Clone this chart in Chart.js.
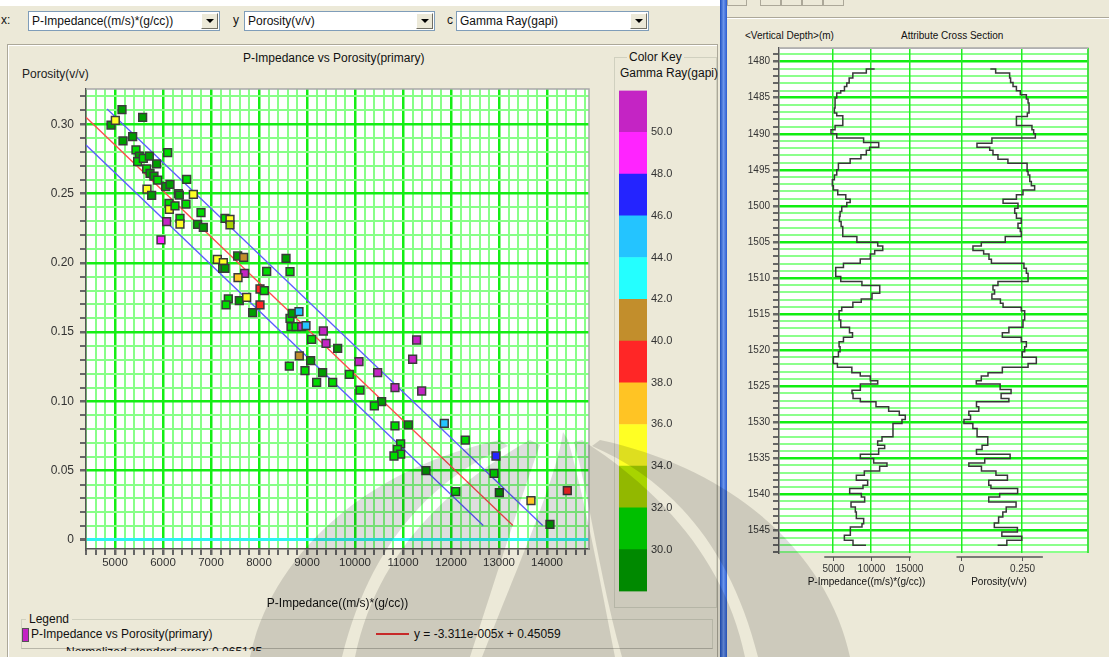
<!DOCTYPE html>
<html>
<head>
<meta charset="utf-8">
<script src="https://cdn.jsdelivr.net/npm/chart.js@4.4.1/dist/chart.umd.min.js"></script>
<style>
html,body{margin:0;padding:0}
body{width:1109px;height:657px;overflow:hidden;position:relative;background:#ece9d8;font-family:'Liberation Sans',Arial,sans-serif;font-size:12px;color:#111}
.a{position:absolute;white-space:nowrap}
.sel{position:absolute;top:11px;height:18px;background:#fff;border:1px solid #7f9db9;line-height:18px;padding-left:3px}
.btn{position:absolute;right:1px;top:1px;width:15px;height:14px;background:#ece9d8;border:1px solid;border-color:#fff #716f64 #716f64 #fff}
.btn:after{content:'';position:absolute;left:4px;top:5px;border-left:4px solid transparent;border-right:4px solid transparent;border-top:4px solid #000}
canvas{position:absolute}
#wm{position:absolute;left:0;top:0;pointer-events:none}
</style>
</head>
<body>
<!-- window chrome -->
<div class="a" style="left:0;top:0;width:720px;height:6px;background:#fff"></div>
<div class="a" style="left:720px;top:0;width:7px;height:657px;background:linear-gradient(to right,#1d4fc0,#6b95ea,#2a5bd0)"></div>
<div class="a" style="left:727px;top:0;width:18px;height:5px;border:1px solid #aca899;border-top:none"></div>
<div class="a" style="left:760px;top:0;width:19px;height:5px;border:1px solid #aca899;border-top:none"></div>
<div class="a" style="left:781px;top:0;width:19px;height:5px;border:1px solid #aca899;border-top:none"></div>
<div class="a" style="left:802px;top:0;width:19px;height:5px;border:1px solid #aca899;border-top:none"></div>
<div class="a" style="left:823px;top:0;width:19px;height:5px;border:1px solid #aca899;border-top:none"></div>
<div class="a" style="left:727px;top:17px;width:382px;height:0;border-top:1px solid #aca899;border-bottom:1px solid #fff"></div>

<!-- top selectors -->
<div class="a" style="left:1px;top:13px">x:</div>
<div class="sel" style="left:28px;width:187px">P-Impedance((m/s)*(g/cc))<div class="btn"></div></div>
<div class="a" style="left:233px;top:13px">y</div>
<div class="sel" style="left:244px;width:186px">Porosity(v/v)<div class="btn"></div></div>
<div class="a" style="left:447px;top:13px">c</div>
<div class="sel" style="left:456px;width:188px">Gamma Ray(gapi)<div class="btn"></div></div>

<!-- left panel frame -->
<div class="a" style="left:7px;top:44px;width:709px;height:620px;border:1px solid #aca899;border-bottom:none;box-shadow:inset 1px 1px 0 #fff"></div>

<!-- main chart texts -->
<div class="a" style="left:243px;top:51px">P-Impedance vs Porosity(primary)</div>
<div class="a" style="left:22px;top:67px;color:#222">Porosity(v/v)</div>

<!-- color key group -->
<div class="a" style="left:614px;top:57px;width:101px;height:549px;border:1px solid #d0d0bf"></div>
<div class="a" style="left:627px;top:50px;background:#ece9d8;padding:0 2px">Color Key</div>
<div class="a" style="left:620px;top:66px">Gamma Ray(gapi)</div>

<!-- legend group -->
<div class="a" style="left:21px;top:619px;width:690px;height:28px;border:1px solid #d0d0bf;border-bottom:1px solid #b8b6a8"></div>
<div class="a" style="left:26px;top:612px;background:#ece9d8;padding:0 3px">Legend</div>
<div class="a" style="left:22px;top:628px;width:5px;height:12px;background:#c422c4;border:1px solid #555"></div>
<div class="a" style="left:31px;top:627px">P-Impedance vs Porosity(primary)</div>
<div class="a" style="left:376px;top:633px;width:33px;height:2px;background:#e53030"></div>
<div class="a" style="left:414px;top:627px">y = -3.311e-005x + 0.45059</div>
<div class="a" style="left:66px;top:645px;height:6px;overflow:hidden"><div style="line-height:14px">Normalized standard error: 0.065125</div></div>

<!-- right panel texts -->
<div class="a" style="left:745px;top:30px;font-size:10px">&lt;Vertical Depth&gt;(m)</div>
<div class="a" style="left:901px;top:30px;font-size:10px">Attribute Cross Section</div>

<canvas id="main" width="600" height="571" style="left:0;top:44px"></canvas>
<canvas id="key" width="118" height="522" style="left:600px;top:80px"></canvas>
<canvas id="log" width="382" height="580" style="left:727px;top:20px"></canvas>

<!-- faint background watermark -->
<svg id="wm" width="1109" height="657" viewBox="0 0 1109 657">
  <g fill="rgba(0,0,0,0.13)">
    <path d="M563,432 C556,480 520,560 482,657 L615,657 C600,580 585,500 568,440 Z"/>
    <path d="M540,445 C520,500 495,580 470,657 L355,657 C375,560 440,490 530,440 Z"/>
    <path d="M508,446 C430,480 370,545 342,657 L250,657 C270,560 360,470 500,440 Z"/>
    <path d="M574,442 C590,500 600,580 622,657 L745,657 C725,560 660,490 582,440 Z"/>
    <path d="M592,446 C670,480 730,545 758,657 L850,657 C830,560 740,470 600,440 Z"/>
  </g>
</svg>

<script>
// ================= DATA =================
// Cross-plot samples
const pImpedance = [4917,5007,5146,5576,5167,5368,5437,5507,5472,5590,
  5715,5660,5730,5812,5868,5889,6097,5667,5764,6056,
  6146,6493,6319,6340,6125,6132,6250,6479,6632,6354,
  6354,6076,6792,6722,6840,5958,7292,7396,7396,7132,
  7257,7243,7292,7556,7681,7701,7563,8160,8563,8646,
  8021,8111,7361,7313,7590,7743,8021,7868,8646,8694,
  8833,8667,8771,8889,8979,9340,9097,9396,9639,11284,
  11201,10083,8840,9076,8958,9326,9882,10472,9201,9535,
  10104,10833,11389,10555,10403,10833,11111,11861,8632,12298,
  10951,10882,10951,10812,12937,11479,12896,12097,13007,13666,
  14423,14062];
const porosity = [0.2994,0.3027,0.3105,0.305,0.2879,0.291,0.2814,0.277,0.273,0.2754,
  0.277,0.2677,0.2645,0.2626,0.2713,0.2597,0.2795,0.2532,0.2487,0.255,
  0.2566,0.2602,0.2499,0.2489,0.2429,0.2386,0.241,0.2424,0.2494,0.2321,
  0.228,0.2297,0.2362,0.2278,0.2256,0.2165,0.2321,0.2314,0.2273,0.2025,
  0.2001,0.196,0.196,0.2049,0.2039,0.1924,0.1893,0.1938,0.2032,0.1936,
  0.1811,0.1799,0.1739,0.1696,0.1727,0.1751,0.1696,0.164,0.1599,0.1635,
  0.1647,0.1539,0.1539,0.1539,0.1546,0.1508,0.1448,0.1419,0.1383,0.1443,
  0.1304,0.1287,0.1328,0.1294,0.1222,0.1207,0.1195,0.1207,0.1138,0.1138,
  0.1082,0.1099,0.1075,0.0998,0.0967,0.0823,0.083,0.0842,0.1255,0.0721,
  0.0693,0.0654,0.062,0.0606,0.0606,0.05,0.0481,0.0349,0.0342,0.0284,
  0.0356,0.0113];
const gammaRay = [29,35,29,29,29,29,31,29,31,31,
  29,31,29,29,29,31,31,35,29,29,
  29,31,31,29,31,35,31,31,35,31,
  35,51,31,29,29,49,31,35,33,35,
  35,31,29,29,41,51,37,31,29,31,
  39,31,31,31,29,35,39,29,31,29,
  45,31,31,51,45,51,31,51,29,51,
  51,51,41,29,31,29,31,51,31,31,
  31,51,51,29,31,31,29,45,31,31,
  31,31,31,31,47,29,31,31,29,37,
  39,29];
// regression line  y = -3.311e-005x + 0.45059  and its bounds (end points)
const fitX = [4396, 13290];      const fitY = [0.3050, 0.0105];
const upperX = [4835, 13910];    const upperY = [0.3110, 0.0105];
const lowerX = [4396, 12672];    const lowerY = [0.2850, 0.0105];
// colour key
const keyEdges = [28,30,32,34,36,38,40,42,44,46,48,50,52];
const keyColors = ['#009e00','#00dc00','#a8d400','#ffff24','#ffc424','#ff2626','#c28e2c','#24ffff','#24c4ff','#2424ff','#ff24ff','#c424c4'];
const keyTicks = [30,32,34,36,38,40,42,44,46,48,50];
const keyLabels = ['30.0','32.0','34.0','36.0','38.0','40.0','42.0','44.0','46.0','48.0','50.0'];
// well logs (depth = bottom of each blocked interval)
const impDepth = [1481.02,1481.57,1482.27,1482.96,1483.43,1484.03,1484.35,1485.05,1486.44,1487.13,
  1487.50,1488.84,1489.44,1490.00,1490.60,1491.20,1491.85,1492.30,1492.90,1493.47,
  1494.07,1495.00,1495.70,1496.39,1497.22,1497.78,1498.47,1499.07,1499.54,1500.09,
  1500.79,1501.48,1502.18,1502.87,1504.25,1505.04,1505.55,1506.20,1506.66,1507.36,
  1507.96,1508.56,1509.81,1510.50,1511.06,1512.13,1512.91,1513.37,1514.07,1514.53,
  1515.83,1516.85,1517.59,1518.24,1518.84,1519.53,1520.23,1520.92,1521.85,1522.40,
  1523.15,1523.61,1524.25,1524.72,1525.56,1526.02,1526.72,1527.18,1527.87,1528.48,
  1529.03,1529.63,1530.19,1532.04,1532.60,1533.20,1533.66,1534.45,1535.05,1535.65,
  1536.11,1536.76,1537.36,1538.06,1538.75,1539.22,1539.91,1540.37,1541.07,1541.76,
  1542.46,1543.38,1544.08,1544.54,1545.70,1546.39,1547.09,1547.09];
const impValue = [10480,9390,7630,7150,6840,6535,6050,5530,5310,5220,
  5530,6320,5310,4780,5530,9035,11010,9825,9390,8685,
  7280,5745,5530,5220,4956,5090,5660,6710,7280,6840,
  6185,5965,5880,6100,6316,8158,10877,11535,10483,9912,
  8597,6404,5395,6053,8816,11140,10132,8728,7632,6184,
  5833,6053,7193,7588,6404,5833,5965,5746,5088,5614,
  7500,8597,9912,10877,8609,7522,7652,8609,10652,12305,
  13696,14478,14044,12870,11435,10870,11783,11000,8609,10348,
  12087,11130,9130,8087,9565,8957,7217,8739,9174,7391,
  7957,8087,9043,8826,7304,6522,7652,9348];
const porDepth = [1481.02,1481.57,1482.27,1482.87,1483.43,1484.03,1484.58,1485.19,1485.74,1487.13,
  1487.59,1488.84,1489.44,1490.00,1490.60,1491.30,1491.85,1492.30,1492.90,1493.52,
  1494.07,1495.23,1495.70,1496.62,1497.22,1497.78,1498.47,1499.07,1499.63,1500.32,
  1501.02,1501.71,1502.41,1503.10,1503.56,1504.25,1505.04,1505.55,1506.20,1506.66,
  1507.40,1507.96,1508.65,1509.35,1510.50,1511.06,1511.66,1512.22,1512.91,1513.51,
  1514.07,1514.53,1515.83,1516.85,1517.59,1518.24,1518.84,1519.53,1520.23,1521.01,
  1521.85,1522.40,1523.15,1523.61,1524.25,1524.72,1525.47,1526.02,1526.72,1527.18,
  1527.87,1528.48,1529.03,1529.63,1530.19,1530.88,1532.04,1533.20,1533.80,1534.45,
  1535.05,1535.65,1536.11,1536.76,1537.36,1538.06,1538.75,1539.22,1539.91,1540.37,
  1541.07,1541.76,1542.46,1543.15,1543.99,1544.63,1545.24,1545.84,1546.39,1547.09,1547.09];
const porValue = [0.1195,0.1415,0.199,0.203,0.213,0.227,0.243,0.268,0.275,0.279,
  0.272,0.227,0.291,0.298,0.305,0.126,0.0646,0.117,0.1305,0.151,
  0.192,0.271,0.275,0.282,0.2885,0.302,0.254,0.227,0.172,0.2335,
  0.220,0.227,0.247,0.2335,0.243,0.247,0.181,0.0824,0.048,0.092,
  0.114,0.124,0.258,0.268,0.275,0.151,0.1305,0.137,0.126,0.161,
  0.172,0.247,0.261,0.254,0.196,0.169,0.247,0.268,0.261,0.251,
  0.309,0.275,0.169,0.110,0.0824,0.0618,0.160,0.205,0.164,0.196,
  0.0625,0.072,0.031,0.038,0.011,0.0476,0.065,0.109,0.0856,0.0625,
  0.201,0.0965,0.031,0.083,0.1427,0.190,0.113,0.122,0.232,0.158,
  0.113,0.2256,0.185,0.171,0.1536,0.136,0.231,0.167,0.249,0.1875,0.1495];
// bottom axes of the log display
const trackAxes = [
  {scale:'xI', from:3900, to:15200, ticks:[5000,10000,15000], labels:['5000','10000','15000'], title:'P-Impedance((m/s)*(g/cc))', titleAt:9420},
  {scale:'xP', from:-0.02, to:0.336, ticks:[0,0.25], labels:['0','0.250'], title:'Porosity(v/v)', titleAt:0.155}
];

// ================= CHARTS =================
Chart.defaults.font.family = "'Liberation Sans', Arial, sans-serif";
Chart.defaults.font.size = 11.5;
Chart.defaults.color = '#333';

function grColor(g){ let i = Math.floor((g - keyEdges[0]) / 2); i = Math.max(0, Math.min(keyColors.length - 1, i)); return keyColors[i]; }
const pairs = (xs, ys) => xs.map((x, i) => ({x: x, y: ys[i]}));
function range(a, b, s){ const r = []; for (let v = a; v <= b + 1e-9; v += s) r.push(Math.round(v * 1000) / 1000); return r; }

const whiteArea = {
  id: 'whiteArea',
  beforeDraw(c){ const a = c.chartArea, ctx = c.ctx; ctx.save(); ctx.fillStyle = '#fff'; ctx.fillRect(a.left, a.top, a.right - a.left, a.bottom - a.top); ctx.restore(); },
  afterDraw(c){ const a = c.chartArea, ctx = c.ctx; ctx.save(); ctx.strokeStyle = '#a8a8a8'; ctx.lineWidth = 1.5;
    ctx.beginPath(); ctx.moveTo(a.left, a.top); ctx.lineTo(a.right, a.top); ctx.lineTo(a.right, a.bottom); ctx.stroke(); ctx.restore(); }
};

const xGrid = range(4400, 14800, 200);
const yGrid = range(0, 0.32, 0.01);
const hund = v => Math.round(v * 100);

new Chart(document.getElementById('main'), {
  type: 'scatter',
  data: { datasets: [
    { label: 'P-Impedance vs Porosity(primary)', data: pairs(pImpedance, porosity), pointStyle: 'rect', pointRadius: 5.5, pointHoverRadius: 5.5,
      pointBackgroundColor: gammaRay.map(grColor), pointBorderColor: '#3a3a3a', pointBorderWidth: 1.5, order: 1 },
    { label: 'fit', data: pairs(fitX, fitY), showLine: true, borderColor: '#ff4c4c', borderWidth: 1.3, pointRadius: 0, order: 2 },
    { label: 'upper', data: pairs(upperX, upperY), showLine: true, borderColor: '#5c5cff', borderWidth: 1.3, pointRadius: 0, order: 2 },
    { label: 'lower', data: pairs(lowerX, lowerY), showLine: true, borderColor: '#5c5cff', borderWidth: 1.3, pointRadius: 0, order: 2 }
  ]},
  options: {
    responsive: false, animation: false, events: [],
    layout: { padding: { top: 45, right: 11, bottom: 0, left: 0 } },
    plugins: { legend: { display: false }, tooltip: { enabled: false } },
    scales: {
      x: { type: 'linear', min: 4396, max: 14875,
        afterBuildTicks: s => { s.ticks = xGrid.map(v => ({ value: v })); },
        afterFit: s => { s.height = 66; },
        ticks: { autoSkip: false, maxRotation: 0, minRotation: 0, padding: 1, color: '#333', callback: v => (Math.round(v) % 1000 === 0 ? String(v) : '') },
        grid: { color: c => (Math.round(c.tick.value) % 1000 === 0 ? '#14ee14' : '#88ff88'), lineWidth: c => (Math.round(c.tick.value) % 1000 === 0 ? 2.5 : 2), tickColor: '#666', tickLength: 6 },
        border: { color: '#555', width: 1.5 },
        title: { display: true, text: 'P-Impedance((m/s)*(g/cc))', color: '#111', font: { size: 12 }, padding: { top: 4, bottom: 4 } }
      },
      y: { type: 'linear', min: -0.0065, max: 0.3254,
        afterBuildTicks: s => { s.ticks = yGrid.map(v => ({ value: v })); },
        afterFit: s => { s.width = 86; },
        ticks: { autoSkip: false, padding: 6, color: '#333', font: { size: 12 }, callback: v => { const n = hund(v); return n % 5 ? '' : (n === 0 ? '0' : v.toFixed(2)); } },
        grid: { color: c => { const n = hund(c.tick.value); return n === 0 ? '#2cf4f4' : (n % 5 === 0 ? '#14ee14' : '#88ff88'); },
                lineWidth: c => { const n = hund(c.tick.value); return n === 0 ? 3 : (n % 5 === 0 ? 2.5 : 2); }, tickColor: '#666', tickLength: 6 },
        border: { color: '#555', width: 1.5 }
      }
    }
  },
  plugins: [whiteArea]
});

// colour key
new Chart(document.getElementById('key'), {
  type: 'bar',
  data: { labels: [''], datasets: keyColors.map((c, i) => ({ data: [[keyEdges[i], keyEdges[i + 1]]], backgroundColor: c, borderWidth: 0, barPercentage: 1, categoryPercentage: 1 })) },
  options: {
    responsive: false, animation: false, events: [],
    layout: { padding: { top: 8, bottom: 7, left: 19, right: 0 } },
    plugins: { legend: { display: false }, tooltip: { enabled: false } },
    scales: {
      x: { stacked: true, display: false },
      y: { position: 'right', min: 28, max: 52,
        afterBuildTicks: s => { s.ticks = keyTicks.map(v => ({ value: v })); },
        afterFit: s => { s.width = 71; },
        grid: { display: false, drawTicks: false }, border: { display: false },
        ticks: { padding: 4, color: '#333', font: { size: 11 }, callback: (v) => keyLabels[keyTicks.indexOf(v)] } }
    }
  }
});

// log display
const depthGrid = range(1479, 1548, 1);
const trackAxesPlugin = {
  id: 'trackAxes',
  afterDraw(chart){
    const ctx = chart.ctx, a = chart.chartArea;
    ctx.save();
    ctx.strokeStyle = '#22ee22'; ctx.lineWidth = 1.5;
    ctx.beginPath(); ctx.moveTo(a.right, a.top); ctx.lineTo(a.right, a.bottom); ctx.stroke();
    ctx.strokeStyle = '#b0b0b0'; ctx.lineWidth = 1;
    ctx.beginPath(); ctx.moveTo(a.left, a.top + 0.5); ctx.lineTo(a.right, a.top + 0.5); ctx.stroke();
    const y0 = a.bottom + 4;
    trackAxes.forEach(t => {
      const s = chart.scales[t.scale];
      ctx.strokeStyle = '#555'; ctx.lineWidth = 1.5;
      ctx.beginPath(); ctx.moveTo(s.getPixelForValue(t.from), y0); ctx.lineTo(s.getPixelForValue(t.to), y0); ctx.stroke();
      ctx.fillStyle = '#333'; ctx.font = "10px 'Liberation Sans', Arial, sans-serif"; ctx.textAlign = 'center'; ctx.textBaseline = 'middle';
      t.ticks.forEach((v, i) => {
        const x = Math.round(s.getPixelForValue(v)) + 0.5;
        ctx.lineWidth = 1; ctx.beginPath(); ctx.moveTo(x, y0); ctx.lineTo(x, y0 + 4); ctx.stroke();
        ctx.fillText(t.labels[i], x, y0 + 12);
      });
      ctx.fillStyle = '#111';
      ctx.fillText(t.title, s.getPixelForValue(t.titleAt), y0 + 25);
    });
    ctx.restore();
  }
};
const vGrid = { color: '#22ee22', lineWidth: 1.5, drawTicks: false };
new Chart(document.getElementById('log'), {
  type: 'line',
  data: { datasets: [
    { data: pairs(impValue, impDepth), xAxisID: 'xI', yAxisID: 'yD', stepped: 'before', borderColor: '#383838', borderWidth: 1.5, pointRadius: 0, fill: false },
    { data: pairs(porValue, porDepth), xAxisID: 'xP', yAxisID: 'yD', stepped: 'before', borderColor: '#383838', borderWidth: 1.5, pointRadius: 0, fill: false }
  ]},
  options: {
    responsive: false, animation: false, events: [],
    layout: { padding: { top: 28, right: 21, bottom: 47, left: 0 } },
    plugins: { legend: { display: false }, tooltip: { enabled: false } },
    scales: {
      yD: { type: 'linear', position: 'left', reverse: true, min: 1478.1, max: 1548.15,
        afterBuildTicks: s => { s.ticks = depthGrid.map(v => ({ value: v })); },
        afterFit: s => { s.width = 52; },
        ticks: { autoSkip: false, padding: 3, color: '#333', font: { size: 10 }, callback: v => (v % 5 === 0 ? String(v) : '') },
        grid: { color: c => (c.tick.value % 5 === 0 ? '#12ee12' : '#8cff8c'), lineWidth: c => (c.tick.value % 5 === 0 ? 2.5 : 2), tickColor: '#666', tickLength: 6 },
        border: { color: '#555', width: 1.5 }
      },
      xI: { type: 'linear', position: 'top', min: -2010, max: 38330,
        afterBuildTicks: s => { s.ticks = trackAxes[0].ticks.map(v => ({ value: v })); },
        afterFit: s => { s.height = 0; },
        ticks: { display: false }, grid: vGrid, border: { display: false } },
      xP: { type: 'linear', position: 'top', min: -0.7508, max: 0.5218,
        afterBuildTicks: s => { s.ticks = trackAxes[1].ticks.map(v => ({ value: v })); },
        afterFit: s => { s.height = 0; },
        ticks: { display: false }, grid: vGrid, border: { display: false } }
    }
  },
  plugins: [whiteArea, trackAxesPlugin]
});
</script>
</body>
</html>
